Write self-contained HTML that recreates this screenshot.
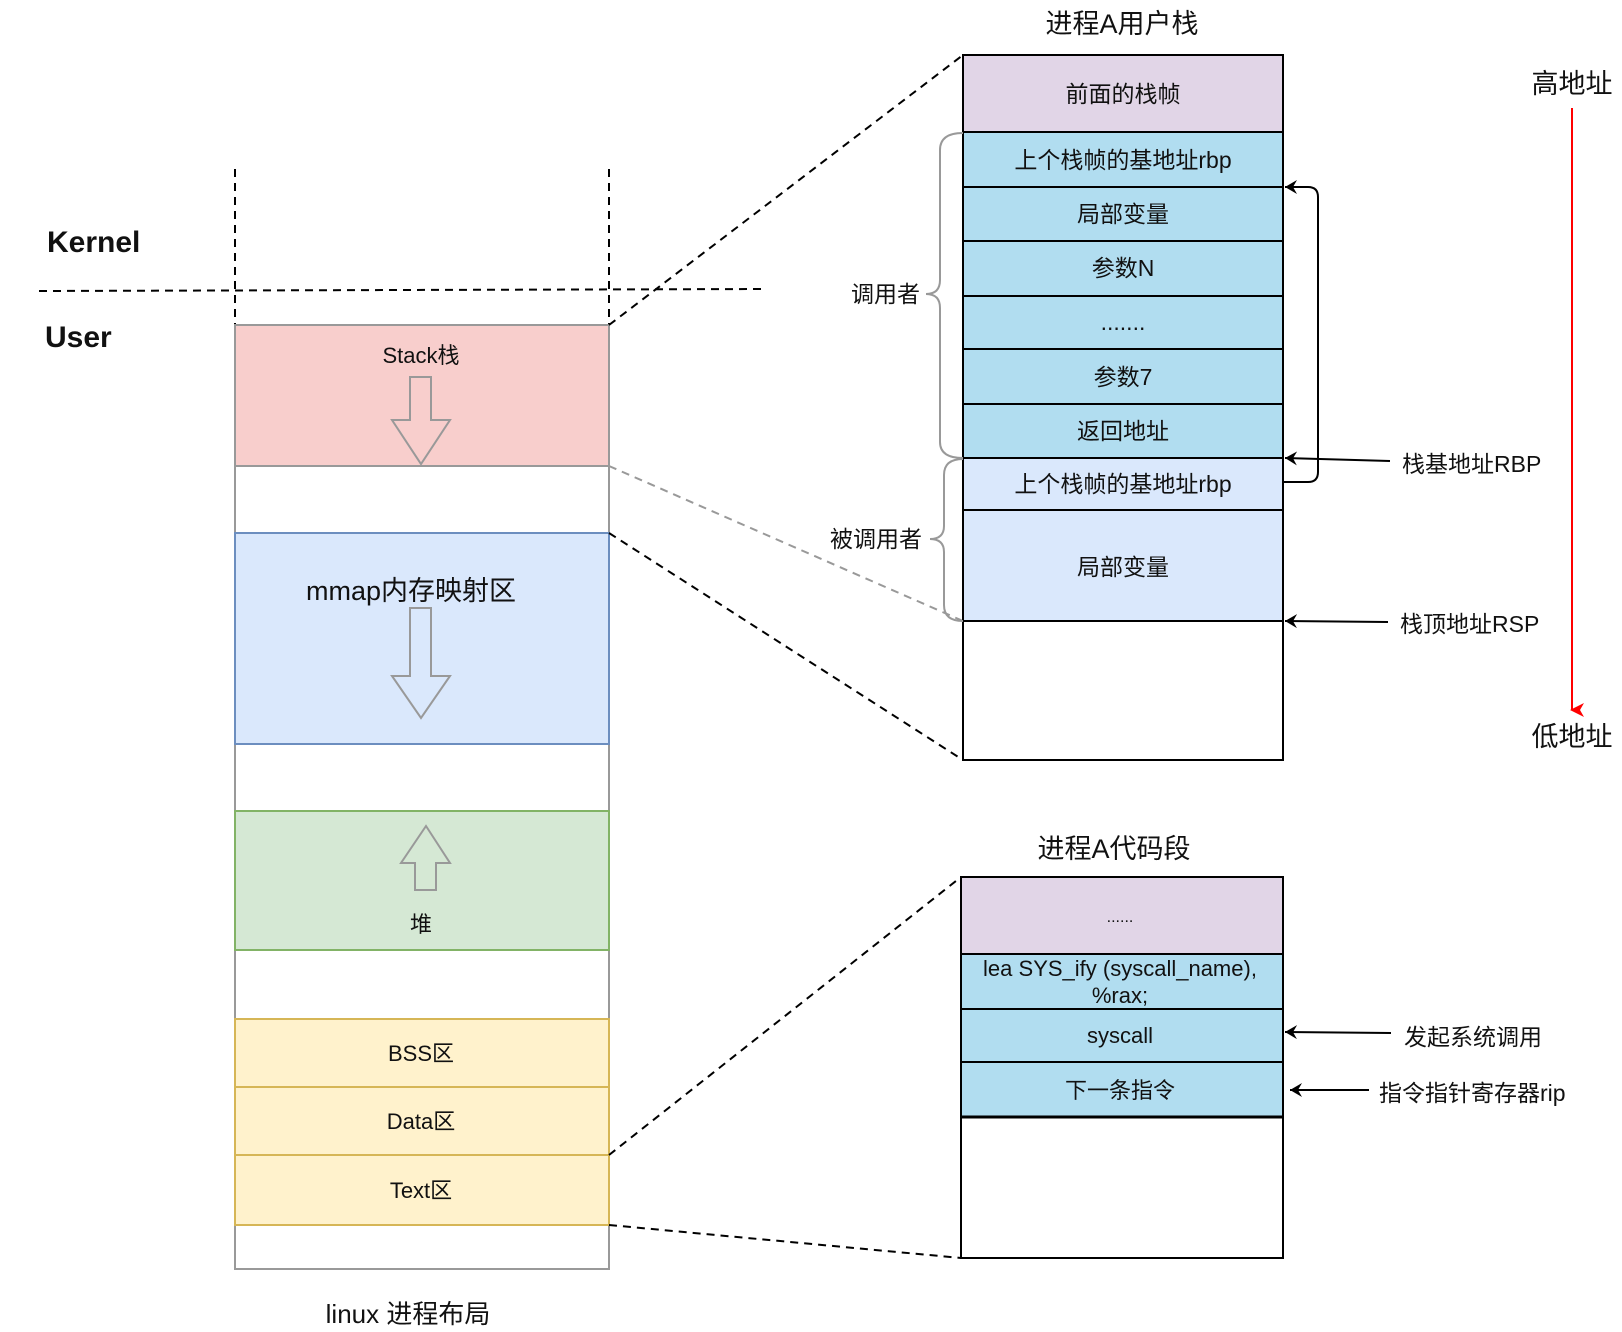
<!DOCTYPE html>
<html><head><meta charset="utf-8"><style>
html,body{margin:0;padding:0;background:#fff;}
svg{display:block;}
text{font-family:"Liberation Sans","Noto Sans CJK SC",sans-serif;fill:#111;}
</style></head><body>
<svg width="1622" height="1332" viewBox="0 0 1622 1332" xmlns="http://www.w3.org/2000/svg">
<defs>
<marker id="ah" markerWidth="14" markerHeight="14" refX="12" refY="7" orient="auto" markerUnits="userSpaceOnUse">
<path d="M12,7 L0,0 L4,7 L0,14 Z" fill="#000"/></marker>
<marker id="ar" markerWidth="14" markerHeight="14" refX="7" refY="12" orient="auto" markerUnits="userSpaceOnUse">
<path d="M7,14 L0,0 L7,4 L14,0 Z" fill="#f00" transform="rotate(0)"/></marker>
</defs>
<!-- kernel/user -->
<text x="47" y="252" font-size="30" font-weight="bold">Kernel</text>
<text x="45" y="347" font-size="30" font-weight="bold">User</text>
<line x1="39" y1="291" x2="765" y2="289" stroke="#000" stroke-width="2" stroke-dasharray="8,6"/>
<line x1="235" y1="169" x2="235" y2="325" stroke="#000" stroke-width="2" stroke-dasharray="8,6"/>
<line x1="609" y1="169" x2="609" y2="325" stroke="#000" stroke-width="2" stroke-dasharray="8,6"/>
<!-- left column -->
<rect x="235" y="325" width="374" height="944" fill="#fff" stroke="#999" stroke-width="2"/>
<rect x="235" y="325" width="374" height="141" fill="#f8cecc" stroke="#999" stroke-width="2"/>
<rect x="235" y="533" width="374" height="211" fill="#dae8fc" stroke="#6c8ebf" stroke-width="2"/>
<rect x="235" y="811" width="374" height="139" fill="#d5e8d4" stroke="#82b366" stroke-width="2"/>
<rect x="235" y="1019" width="374" height="68" fill="#fff2cc" stroke="#d6b656" stroke-width="2"/>
<rect x="235" y="1087" width="374" height="68" fill="#fff2cc" stroke="#d6b656" stroke-width="2"/>
<rect x="235" y="1155" width="374" height="70" fill="#fff2cc" stroke="#d6b656" stroke-width="2"/>
<text x="421" y="363" font-size="22" text-anchor="middle">Stack栈</text>
<path d="M410,377 L431,377 L431,420 L450,420 L421,464 L392,420 L410,420 Z" fill="none" stroke="#999" stroke-width="2"/>
<text x="411" y="600" font-size="27" text-anchor="middle">mmap内存映射区</text>
<path d="M410,608 L431,608 L431,676 L450,676 L421,718 L392,676 L410,676 Z" fill="none" stroke="#999" stroke-width="2"/>
<path d="M426,826 L450,863 L436,863 L436,890 L415,890 L415,863 L401,863 Z" fill="none" stroke="#999" stroke-width="2"/>
<text x="421" y="932" font-size="22" text-anchor="middle">堆</text>
<text x="421" y="1061" font-size="22" text-anchor="middle">BSS区</text>
<text x="421" y="1129" font-size="22" text-anchor="middle">Data区</text>
<text x="421" y="1198" font-size="22" text-anchor="middle">Text区</text>
<text x="408" y="1323" font-size="26" text-anchor="middle">linux 进程布局</text>
<!-- dashed connectors -->
<line x1="609" y1="325" x2="963" y2="55" stroke="#000" stroke-width="2" stroke-dasharray="8,6"/>
<line x1="609" y1="466" x2="963" y2="621" stroke="#999" stroke-width="2" stroke-dasharray="8,6"/>
<line x1="609" y1="533" x2="963" y2="760" stroke="#000" stroke-width="2" stroke-dasharray="8,6"/>
<line x1="609" y1="1155" x2="961" y2="877" stroke="#000" stroke-width="2" stroke-dasharray="8,6"/>
<line x1="609" y1="1225" x2="961" y2="1258" stroke="#000" stroke-width="2" stroke-dasharray="8,6"/>
<!-- right stack -->
<text x="1122" y="33" font-size="27" text-anchor="middle">进程A用户栈</text>
<g stroke="#000" stroke-width="2">
<rect x="963" y="55" width="320" height="705" fill="#fff"/>
<rect x="963" y="55" width="320" height="77" fill="#e1d5e7"/>
<rect x="963" y="132" width="320" height="55" fill="#b1ddf0"/>
<rect x="963" y="187" width="320" height="54" fill="#b1ddf0"/>
<rect x="963" y="241" width="320" height="55" fill="#b1ddf0"/>
<rect x="963" y="296" width="320" height="53" fill="#b1ddf0"/>
<rect x="963" y="349" width="320" height="55" fill="#b1ddf0"/>
<rect x="963" y="404" width="320" height="54" fill="#b1ddf0"/>
<rect x="963" y="458" width="320" height="52" fill="#dae8fc"/>
<rect x="963" y="510" width="320" height="111" fill="#dae8fc"/>
</g>
<g font-size="23" text-anchor="middle">
<text x="1123" y="102">前面的栈帧</text>
<text x="1123" y="168">上个栈帧的基地址rbp</text>
<text x="1123" y="222">局部变量</text>
<text x="1123" y="276">参数N</text>
<text x="1123" y="330">.......</text>
<text x="1123" y="385">参数7</text>
<text x="1123" y="439">返回地址</text>
<text x="1123" y="492">上个栈帧的基地址rbp</text>
<text x="1123" y="575">局部变量</text>
</g>
<!-- braces -->
<path d="M963,133 Q940,133 940,150 L940,280 Q940,294 926,294 Q940,294 940,308 L940,442 Q940,458 963,458" fill="none" stroke="#999" stroke-width="2"/>
<path d="M963,459 Q944,459 944,475 L944,526 Q944,539 930,539 Q944,539 944,552 L944,605 Q944,621 963,621" fill="none" stroke="#999" stroke-width="2"/>
<text x="920" y="302" font-size="23" text-anchor="end">调用者</text>
<text x="922" y="547" font-size="23" text-anchor="end">被调用者</text>
<!-- arrows -->
<path d="M1283,482 L1308,482 Q1318,482 1318,472 L1318,197 Q1318,187 1308,187 L1285,187" fill="none" stroke="#000" stroke-width="2" marker-end="url(#ah)"/>
<line x1="1390" y1="461" x2="1285" y2="458" stroke="#000" stroke-width="2" marker-end="url(#ah)"/>
<line x1="1388" y1="622" x2="1285" y2="621" stroke="#000" stroke-width="2" marker-end="url(#ah)"/>
<text x="1402" y="472" font-size="23">栈基地址RBP</text>
<text x="1400" y="632" font-size="23">栈顶地址RSP</text>
<!-- red -->
<line x1="1572" y1="108" x2="1572" y2="710" stroke="#f00" stroke-width="2" marker-end="url(#ar)"/>
<text x="1572" y="93" font-size="27" text-anchor="middle">高地址</text>
<text x="1572" y="746" font-size="27" text-anchor="middle">低地址</text>
<!-- code segment -->
<text x="1114" y="858" font-size="27" text-anchor="middle">进程A代码段</text>
<g stroke="#000" stroke-width="2">
<rect x="961" y="877" width="322" height="381" fill="#fff"/>
<rect x="961" y="877" width="322" height="77" fill="#e1d5e7"/>
<rect x="961" y="954" width="322" height="55" fill="#b1ddf0"/>
<rect x="961" y="1009" width="322" height="53" fill="#b1ddf0"/>
<rect x="961" y="1062" width="322" height="55" fill="#b1ddf0"/>
</g>
<line x1="961" y1="1117" x2="1283" y2="1117" stroke="#000" stroke-width="3"/>
<g font-size="22" text-anchor="middle">
<text x="1120" y="922" font-size="16">......</text>
<text x="1120" y="976">lea SYS_ify (syscall_name),</text>
<text x="1120" y="1003">%rax;</text>
<text x="1120" y="1043">syscall</text>
<text x="1120" y="1098">下一条指令</text>
</g>
<line x1="1391" y1="1033" x2="1285" y2="1032" stroke="#000" stroke-width="2" marker-end="url(#ah)"/>
<line x1="1369" y1="1090" x2="1290" y2="1090" stroke="#000" stroke-width="2" marker-end="url(#ah)"/>
<text x="1404" y="1045" font-size="23">发起系统调用</text>
<text x="1379" y="1101" font-size="23">指令指针寄存器rip</text>
</svg>
</body></html>
